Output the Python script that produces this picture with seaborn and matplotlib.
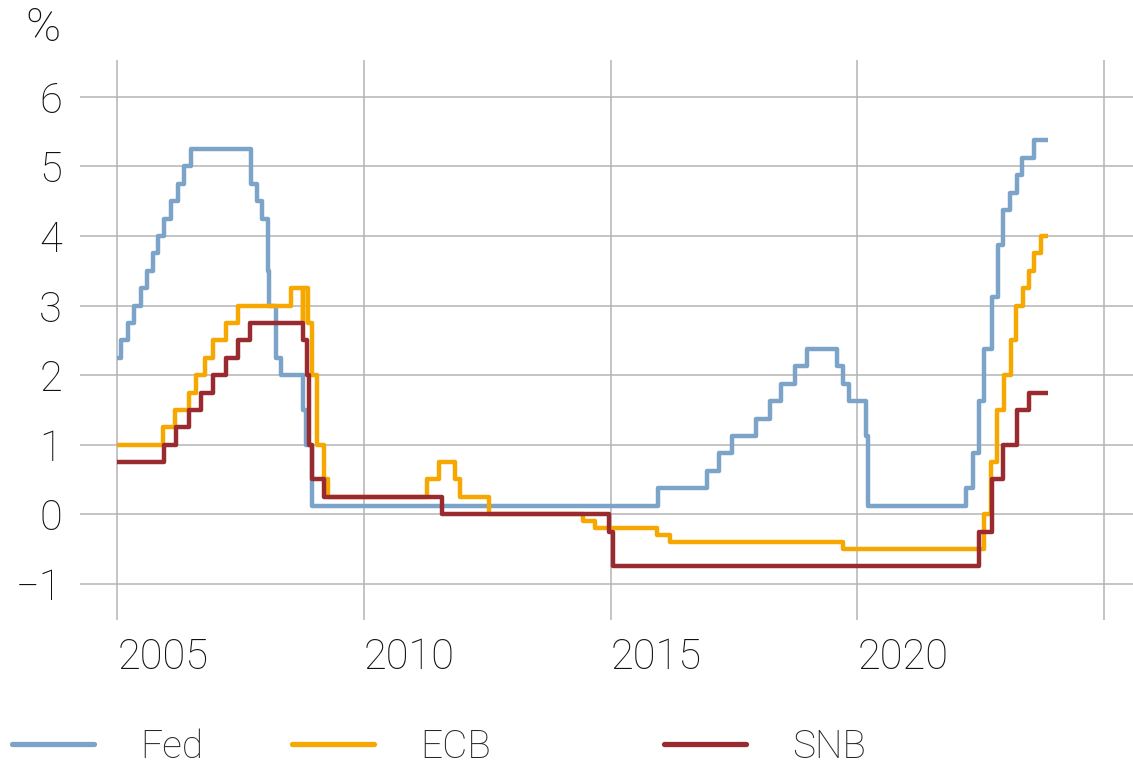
import pandas as pd
import matplotlib.pyplot as plt
import seaborn as sns
from matplotlib.lines import Line2D

# Policy rates (%), step changes by effective date
fed_dates = ["2005-01-01", "2005-02-02", "2005-03-22", "2005-05-03", "2005-06-30", "2005-08-09",
             "2005-09-20", "2005-11-01", "2005-12-13", "2006-01-31", "2006-03-28", "2006-05-10",
             "2006-06-29", "2007-09-18", "2007-10-31", "2007-12-11", "2008-01-22", "2008-01-30",
             "2008-03-18", "2008-04-30", "2008-10-08", "2008-10-29", "2008-12-16", "2015-12-17",
             "2016-12-15", "2017-03-16", "2017-06-15", "2017-12-14", "2018-03-22", "2018-06-14",
             "2018-09-27", "2018-12-20", "2019-08-01", "2019-09-19", "2019-10-31", "2020-03-04",
             "2020-03-16", "2022-03-17", "2022-05-05", "2022-06-16", "2022-07-28", "2022-09-22",
             "2022-11-03", "2022-12-15", "2023-02-02", "2023-03-23", "2023-05-04", "2023-07-27",
             "2023-11-10"]
fed_rates = [2.25, 2.5, 2.75, 3.0, 3.25, 3.5, 3.75, 4.0, 4.25, 4.5, 4.75, 5.0,
             5.25, 4.75, 4.5, 4.25, 3.5, 3.0, 2.25, 2.0, 1.5, 1.0, 0.125, 0.375,
             0.625, 0.875, 1.125, 1.375, 1.625, 1.875, 2.125, 2.375, 2.125, 1.875, 1.625, 1.125,
             0.125, 0.375, 0.875, 1.625, 2.375, 3.125, 3.875, 4.375, 4.625, 4.875, 5.125, 5.375,
             5.375]

ecb_dates = ["2005-01-01", "2005-12-06", "2006-03-08", "2006-06-15", "2006-08-09", "2006-10-11",
             "2006-12-13", "2007-03-14", "2007-06-13", "2008-07-09", "2008-10-08", "2008-10-09",
             "2008-11-12", "2008-12-10", "2009-01-21", "2009-03-11", "2009-04-08", "2011-04-13",
             "2011-07-13", "2011-11-09", "2011-12-14", "2012-07-11", "2014-06-11", "2014-09-10",
             "2015-12-09", "2016-03-16", "2019-09-18", "2022-07-27", "2022-09-14", "2022-11-02",
             "2022-12-21", "2023-02-08", "2023-03-22", "2023-05-10", "2023-06-21", "2023-08-02",
             "2023-09-20", "2023-11-10"]
ecb_rates = [1.0, 1.25, 1.5, 1.75, 2.0, 2.25, 2.5, 2.75, 3.0, 3.25, 2.75, 3.25,
             2.75, 2.0, 1.0, 0.5, 0.25, 0.5, 0.75, 0.5, 0.25, 0.0, -0.1, -0.2,
             -0.3, -0.4, -0.5, 0.0, 0.75, 1.5, 2.0, 2.5, 3.0, 3.25, 3.5, 3.75,
             4.0, 4.0]

snb_dates = ["2005-01-01", "2005-12-15", "2006-03-16", "2006-06-15", "2006-09-14", "2006-12-14",
             "2007-03-15", "2007-06-14", "2007-09-13", "2008-10-08", "2008-11-06", "2008-11-20",
             "2008-12-11", "2009-03-12", "2011-08-03", "2014-12-18", "2015-01-15", "2022-06-16",
             "2022-09-22", "2022-12-15", "2023-03-23", "2023-06-22", "2023-11-10"]
snb_rates = [0.75, 1.0, 1.25, 1.5, 1.75, 2.0, 2.25, 2.5, 2.75, 2.5, 2.0, 1.0,
             0.5, 0.25, 0.0, -0.25, -0.75, -0.25, 0.5, 1.0, 1.5, 1.75, 1.75]

banks = ["Fed", "ECB", "SNB"]
colors = {"Fed": "#7ba4c8", "ECB": "#f7a800", "SNB": "#982a30"}
year_ticks = [2005, 2010, 2015, 2020, 2025]
year_labels = ["2005", "2010", "2015", "2020", ""]

frames = []
for name, d, r in [("Fed", fed_dates, fed_rates), ("ECB", ecb_dates, ecb_rates), ("SNB", snb_dates, snb_rates)]:
    frames.append(pd.DataFrame({"date": pd.to_datetime(d), "rate": r, "bank": name}))
df = pd.concat(frames, ignore_index=True)

sns.set_theme(style="white")
plt.rcParams['font.family'] = ['Roboto', 'DejaVu Sans']
plt.rcParams['font.weight'] = 'light'
FS = 30

fig = plt.figure(figsize=(11.33, 7.64), dpi=100)
ax = fig.add_axes([80 / 1133, 144 / 764, 1 - 80 / 1133, 560 / 764])

sns.lineplot(data=df, x="date", y="rate", hue="bank", hue_order=banks, palette=colors,
             estimator=None, drawstyle="steps-post", linewidth=3.2, legend=False, ax=ax,
             solid_joinstyle="round", solid_capstyle="butt")

ax.set_xlim(pd.Timestamp("2004-04-01"), pd.Timestamp("2025-08-01"))
ax.set_ylim(-1.52, 6.53)
ax.set_yticks(range(-1, 7))
ax.set_xticks([pd.Timestamp(f"{y}-01-01") for y in year_ticks])
ax.set_xticklabels(year_labels, ha="left")
ax.grid(True, color="#b4b4b4", linewidth=1.1)
ax.set_axisbelow(True)
for s in ax.spines.values():
    s.set_visible(False)
ax.tick_params(axis="both", length=0, labelsize=FS, colors="#111111")
ax.tick_params(axis="y", pad=13)
ax.tick_params(axis="x", pad=12)
ax.set_xlabel("")
ax.set_ylabel("")

fig.text(43 / 1133, 1 - 28 / 764, "%", ha="center", va="center", fontsize=34, color="#111111")

legend_x = {"Fed": 12, "ECB": 292, "SNB": 664}
for name in banks:
    h = Line2D([], [], color=colors[name], linewidth=3.8)
    leg = fig.legend([h], [name], loc="center left", bbox_to_anchor=(legend_x[name] / 1133, 17 / 764),
                     frameon=False, fontsize=28, handlelength=2.1, handletextpad=1.2,
                     borderpad=0, borderaxespad=0)

fig.savefig("out.png", dpi=100)
